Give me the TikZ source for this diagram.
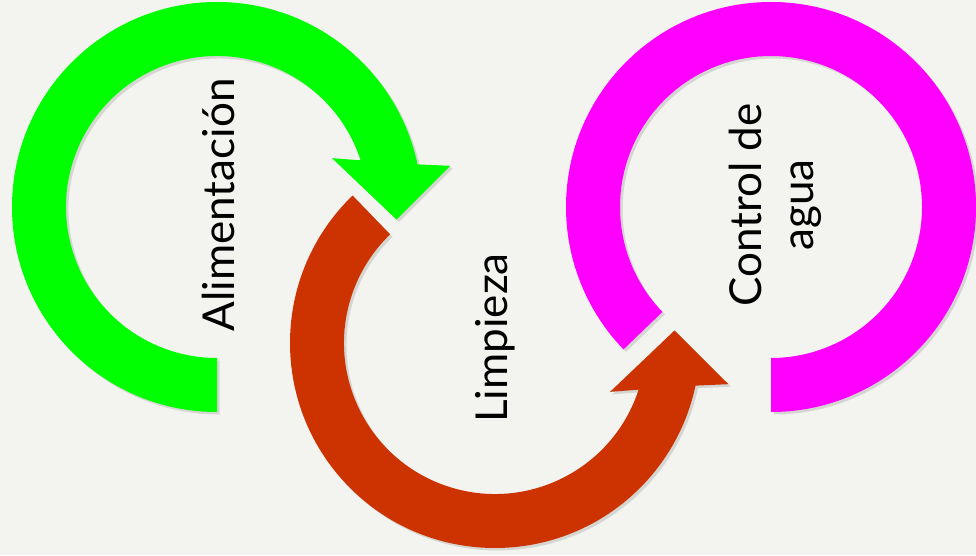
\documentclass[tikz,border=0pt]{standalone}
\usepackage{fontspec}
\setmainfont{Lato}
\usepackage{xcolor}
\usepackage{tikz}
\usetikzlibrary{shadows}
\definecolor{bg}{HTML}{F3F3EF}
\definecolor{lime}{HTML}{00FF00}
\definecolor{rust}{HTML}{CC3300}
\definecolor{pink}{HTML}{FF00FF}
\definecolor{ink}{HTML}{000000}
\tikzset{
  ring/.style={draw=none, drop shadow={shadow xshift=2.5pt, shadow yshift=-2.5pt, opacity=0.12, fill=black}},
  lab/.style={text=ink, font=\fontsize{44}{52}\selectfont, rotate=90, align=center, inner sep=0pt},
}

\begin{document}
\begin{tikzpicture}[x=1pt,y=1pt]
  \def\ro{205}
  \def\ri{151}
  \fill[bg] (0,0) rectangle (976,555);
  \useasboundingbox (0,0) rectangle (976,555);
  \coordinate (G) at (217,348);
  \coordinate (R) at (495,212);
  \coordinate (M) at (771,348);

  % Alimentacion: clockwise arrow
  \begin{scope}[shift={(G)}]
    \fill[lime,ring] (270:\ro) arc[start angle=270, end angle=12, radius=\ro]
      -- (10:237) -- (-4:180) -- (23:125) -- (18:\ri)
      arc[start angle=18, end angle=270, radius=\ri] -- cycle;
  \end{scope}

  % Limpieza: counterclockwise arrow
  \begin{scope}[shift={(R)}]
    \fill[rust,ring] (134:\ro) arc[start angle=134, end angle=348, radius=\ro]
      -- (350:237) -- (364:180) -- (337:125) -- (342:\ri)
      arc[start angle=342, end angle=134, radius=\ri] -- cycle;
  \end{scope}

  % Control de agua: open ring
  \begin{scope}[shift={(M)}]
    \fill[pink,ring] (-90:\ro) arc[start angle=-90, end angle=224, radius=\ro]
      -- (224:\ri) arc[start angle=224, end angle=-90, radius=\ri] -- cycle;
  \end{scope}

  \node[lab] (alim) at (218,350) {Alimentación};
  \node[lab] (limp) at (495,217) {Limpieza};
  \node[lab] (ctrl) at (775,350) {Control de\\agua};
\end{tikzpicture}
\end{document}
